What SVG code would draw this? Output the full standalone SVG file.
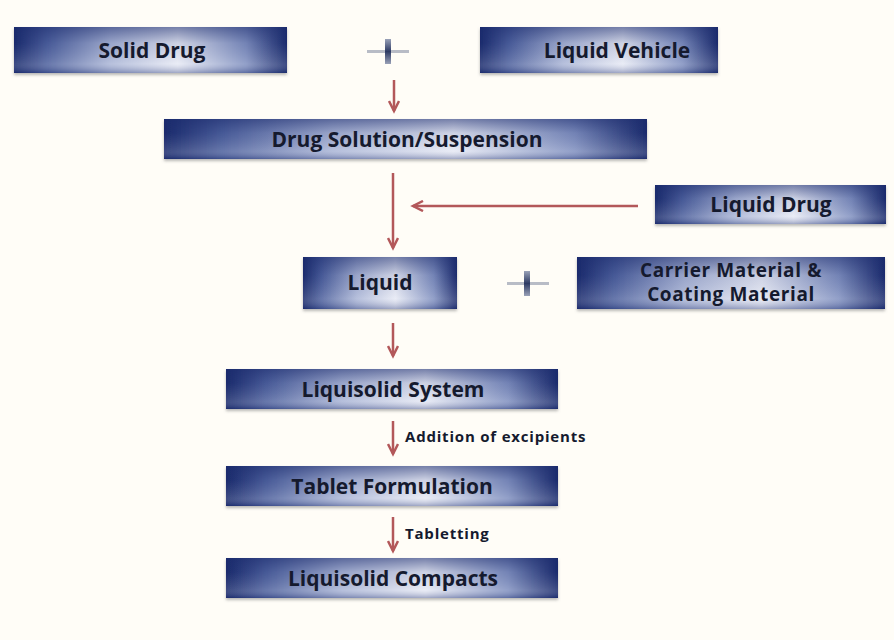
<svg xmlns="http://www.w3.org/2000/svg" width="894" height="640" viewBox="0 0 894 640">
<defs>
<linearGradient id="boxH" x1="0" y1="0" x2="1" y2="0">
<stop offset="0" stop-color="#1a2a6c"/>
<stop offset="0.12" stop-color="#4c5f9c"/>
<stop offset="0.35" stop-color="#aab5d6"/>
<stop offset="0.6" stop-color="#e6e9f4"/>
<stop offset="0.85" stop-color="#7f8fbf"/>
<stop offset="1" stop-color="#1a2a6c"/>
</linearGradient>
<linearGradient id="boxV" x1="0" y1="0" x2="0" y2="1">
<stop offset="0" stop-color="#1a2a6c" stop-opacity="0.55"/>
<stop offset="0.35" stop-color="#1a2a6c" stop-opacity="0.12"/>
<stop offset="0.8" stop-color="#ffffff" stop-opacity="0.15"/>
<stop offset="1" stop-color="#1a2a6c" stop-opacity="0.35"/>
</linearGradient>
<linearGradient id="plusV" x1="0" y1="0" x2="0" y2="1">
<stop offset="0" stop-color="#9aa2b8"/>
<stop offset="0.5" stop-color="#2d3a63"/>
<stop offset="1" stop-color="#9aa2b8"/>
</linearGradient>
<marker id="ah" markerWidth="14" markerHeight="12" refX="11" refY="6" orient="auto" markerUnits="userSpaceOnUse">
<path d="M1,1 L11,6 L1,11" fill="none" stroke="#b3585a" stroke-width="2.5"/>
</marker>
<filter id="sh" x="-5%" y="-20%" width="110%" height="150%">
<feDropShadow dx="0" dy="2" stdDeviation="1.5" flood-color="#888" flood-opacity="0.6"/>
</filter>
</defs>
<style>
.b{fill:url(#boxH);filter:url(#sh)}
.o{fill:url(#boxV)}
.t{font-family:"Open Sans","Liberation Sans",sans-serif;font-weight:700;font-size:21px;fill:#151a2e;text-anchor:middle}
.t2{font-family:"Open Sans","Liberation Sans",sans-serif;font-weight:700;font-size:19px;letter-spacing:0.6px;fill:#151a2e;text-anchor:middle}
.l{font-family:"Open Sans","Liberation Sans",sans-serif;font-weight:700;font-size:15px;letter-spacing:0.8px;fill:#151a2e}
.c{stroke:#b3585a;stroke-width:2.5;fill:none;marker-end:url(#ah)}
.ph{fill:#b8bcc6}
.pv{fill:url(#plusV)}
</style>
<rect width="894" height="640" fill="#fffdf7"/>
<g id="solid-drug"><rect class="b" x="14" y="27" width="273" height="46"/><rect class="o" x="14" y="27" width="273" height="46"/><text class="t" x="152" y="58">Solid Drug</text></g>
<g id="liquid-vehicle"><rect class="b" x="480" y="27" width="238" height="46"/><rect class="o" x="480" y="27" width="238" height="46"/><text class="t" x="617" y="58">Liquid Vehicle</text></g>
<g id="plus1"><rect class="ph" x="367" y="50" width="42" height="3"/><rect class="pv" x="385" y="39" width="6" height="25"/></g>
<g id="drug-solution"><rect class="b" x="164" y="119" width="483" height="40"/><rect class="o" x="164" y="119" width="483" height="40"/><text class="t" x="407" y="147">Drug Solution/Suspension</text></g>
<g id="liquid-drug"><rect class="b" x="655" y="185" width="231" height="39"/><rect class="o" x="655" y="185" width="231" height="39"/><text class="t" x="771" y="212">Liquid Drug</text></g>
<g id="liquid"><rect class="b" x="303" y="257" width="154" height="52"/><rect class="o" x="303" y="257" width="154" height="52"/><text class="t" x="380" y="290">Liquid</text></g>
<g id="plus2"><rect class="ph" x="507" y="282" width="42" height="3"/><rect class="pv" x="524" y="271" width="6" height="25"/></g>
<g id="carrier"><rect class="b" x="577" y="257" width="308" height="52"/><rect class="o" x="577" y="257" width="308" height="52"/><text class="t2" x="731" y="277">Carrier Material &amp;</text><text class="t2" x="731" y="301">Coating Material</text></g>
<g id="liquisolid-system"><rect class="b" x="226" y="369" width="332" height="40"/><rect class="o" x="226" y="369" width="332" height="40"/><text class="t" x="393" y="397">Liquisolid System</text></g>
<g id="tablet-formulation"><rect class="b" x="226" y="466" width="332" height="40"/><rect class="o" x="226" y="466" width="332" height="40"/><text class="t" x="392" y="494">Tablet Formulation</text></g>
<g id="liquisolid-compacts"><rect class="b" x="226" y="558" width="332" height="40"/><rect class="o" x="226" y="558" width="332" height="40"/><text class="t" x="393" y="586">Liquisolid Compacts</text></g>
<g id="connectors">
<line class="c" x1="394" y1="80" x2="394" y2="111"/>
<line class="c" x1="393" y1="173" x2="393" y2="248"/>
<line class="c" x1="638" y1="206" x2="413" y2="206"/>
<line class="c" x1="393" y1="323" x2="393" y2="356"/>
<line class="c" x1="393" y1="421" x2="393" y2="454"/>
<line class="c" x1="393" y1="517" x2="393" y2="551"/>
</g>
<text class="l" x="405" y="442">Addition of excipients</text>
<text class="l" x="405" y="539">Tabletting</text>
</svg>
